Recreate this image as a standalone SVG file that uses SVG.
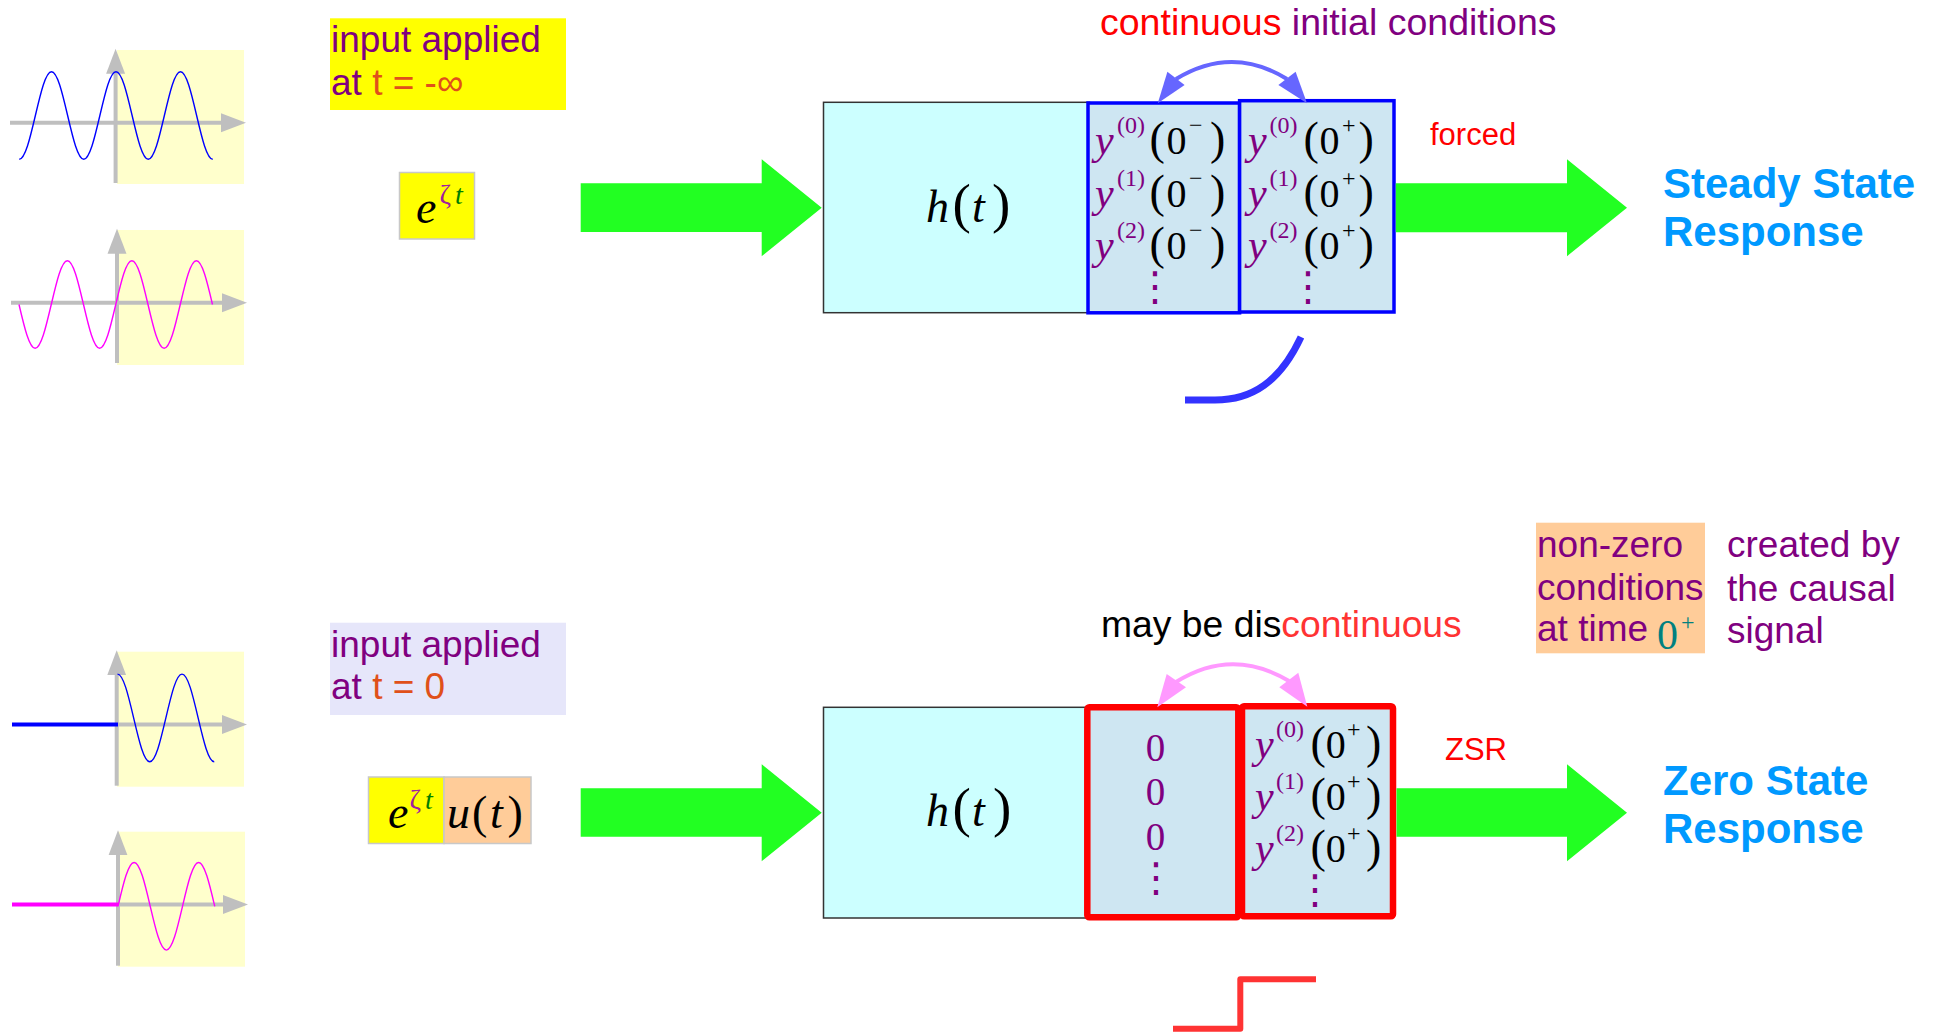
<svg xmlns="http://www.w3.org/2000/svg" width="1939" height="1032" viewBox="0 0 1939 1032">
<style>
.sans{font-family:"Liberation Sans",Arial,sans-serif}
.serif{font-family:"Liberation Serif","Times New Roman",serif}
.it{font-style:italic}
.pur{fill:#800080}
.org{fill:#e0501a}
.lbl{font-size:37px}
.panel{fill:#ffffcc}
.axis{stroke:#bfbfbf;stroke-width:4;fill:none;marker-end:url(#garr)}
.wave{fill:none;stroke-width:1.4}
.cyan{fill:#ccffff;stroke:#333;stroke-width:1.5}
.icb{fill:#cee6f2;stroke:#0000ff;stroke-width:3.5}
.icr{fill:#cee6f2;stroke:#ff0000;stroke-width:6.5;stroke-linejoin:round}
.green{fill:#22ff22}
.row{font-size:40px}
.sup{font-size:24px}
.par{font-size:46px}
.dots{font-family:"DejaVu Sans",sans-serif;font-size:40px;fill:#800080;text-anchor:middle}
.resp{font-family:"Liberation Sans",Arial,sans-serif;font-weight:bold;font-size:42px;fill:#0099ff}
.note{font-family:"Liberation Sans",Arial,sans-serif;font-size:31px;fill:#ff0000}
.arcb{fill:none;stroke:#6666ff;stroke-width:4}
.headb{fill:#6666ff}
.arcp{fill:none;stroke:#ff99ff;stroke-width:4}
.headp{fill:#ff99ff}
</style>
<defs>
<marker id="garr" viewBox="0 -10 26 20" refX="1" refY="0" markerWidth="26" markerHeight="20" markerUnits="userSpaceOnUse" orient="auto">
<path d="M0,-9.5 L25,0 L0,9.5 z" fill="#bfbfbf"/>
</marker>
</defs>
<rect width="1939" height="1032" fill="#ffffff"/>

<!-- left signal sketches -->
<g id="sketch-cos-full">
<rect class="panel" x="117" y="50" width="127" height="134"/>
<line class="axis" x1="10" y1="122.7" x2="222" y2="122.7"/>
<line class="axis" x1="115.6" y1="183" x2="115.6" y2="72.7"/>
<path class="wave" stroke="#0000ff" d="M19.25,159.3 c5.8,0 10.735,-20.8 16.125,-43.8 c5.39,-23 10.32,-43.8 16.125,-43.8 c5.8,0 10.735,20.8 16.125,43.8 c5.39,23 10.32,43.8 16.125,43.8 c5.8,0 10.735,-20.8 16.125,-43.8 c5.39,-23 10.32,-43.8 16.125,-43.8 c5.8,0 10.735,20.8 16.125,43.8 c5.39,23 10.32,43.8 16.125,43.8 c5.8,0 10.735,-20.8 16.125,-43.8 c5.39,-23 10.32,-43.8 16.125,-43.8 c5.8,0 10.735,20.8 16.125,43.8 c5.39,23 10.32,43.8 16.125,43.8"/>
</g>
<g id="sketch-sin-full">
<rect class="panel" x="117" y="230" width="127" height="135"/>
<line class="axis" x1="11" y1="302.7" x2="223" y2="302.7"/>
<line class="axis" x1="117" y1="363" x2="117" y2="252.7"/>
<path class="wave" stroke="#ff00ff" d="M19,304.5 c5.39,23 10.32,43.8 16.125,43.8 c5.8,0 10.735,-20.8 16.125,-43.8 c5.39,-23 10.32,-43.8 16.125,-43.8 c5.8,0 10.735,20.8 16.125,43.8 c5.39,23 10.32,43.8 16.125,43.8 c5.8,0 10.735,-20.8 16.125,-43.8 c5.39,-23 10.32,-43.8 16.125,-43.8 c5.8,0 10.735,20.8 16.125,43.8 c5.39,23 10.32,43.8 16.125,43.8 c5.8,0 10.735,-20.8 16.125,-43.8 c5.39,-23 10.32,-43.8 16.125,-43.8 c5.8,0 10.735,20.8 16.125,43.8"/>
</g>
<g id="sketch-cos-causal">
<rect class="panel" x="117" y="651.7" width="127" height="135"/>
<line class="axis" x1="118" y1="724.5" x2="223" y2="724.5"/>
<line class="axis" x1="116.7" y1="785.7" x2="116.7" y2="674.3"/>
<line x1="12" y1="724.5" x2="118" y2="724.5" stroke="#0000ff" stroke-width="4"/>
<path class="wave" stroke="#0000ff" d="M117.5,674.1 c5.8,0 10.735,20.8 16.125,43.8 c5.39,23 10.32,43.8 16.125,43.8 c5.8,0 10.735,-20.8 16.125,-43.8 c5.39,-23 10.32,-43.8 16.125,-43.8 c5.8,0 10.735,20.8 16.125,43.8 c5.39,23 10.32,43.8 16.125,43.8"/>
</g>
<g id="sketch-sin-causal">
<rect class="panel" x="118" y="831.7" width="127" height="135"/>
<line class="axis" x1="118" y1="904.5" x2="224" y2="904.5"/>
<line class="axis" x1="118" y1="965.7" x2="118" y2="854.3"/>
<line x1="12" y1="904.5" x2="118" y2="904.5" stroke="#ff00ff" stroke-width="4"/>
<path class="wave" stroke="#ff00ff" d="M118,906.3 c5.39,-23 10.32,-43.8 16.125,-43.8 c5.8,0 10.735,20.8 16.125,43.8 c5.39,23 10.32,43.8 16.125,43.8 c5.8,0 10.735,-20.8 16.125,-43.8 c5.39,-23 10.32,-43.8 16.125,-43.8 c5.8,0 10.735,20.8 16.125,43.8"/>
</g>

<!-- input descriptions -->
<g id="label-input-inf">
<rect x="330" y="18.3" width="236" height="91.7" fill="#ffff00"/>
<text class="sans lbl pur" x="331" y="51.7">input applied</text>
<text class="sans lbl pur" x="331" y="95">at <tspan class="org">t = -∞</tspan></text>
</g>
<g id="label-input-zero">
<rect x="330" y="622.7" width="236" height="92.3" fill="#e6e6fa"/>
<text class="sans lbl pur" x="331" y="656.7">input applied</text>
<text class="sans lbl pur" x="331" y="699.3">at <tspan class="org">t = 0</tspan></text>
</g>

<!-- input signals -->
<g id="input-exp">
<rect x="399.5" y="172.5" width="75" height="66.5" fill="#ffff00" stroke="#c8c8c8" stroke-width="1.5"/>
<text class="serif" y="222.7"><tspan class="it" x="416" font-size="46">e</tspan><tspan x="439.5" y="204" font-size="28" fill="#a0209f">ζ</tspan><tspan class="it" x="455" y="204" font-size="28" fill="#008000">t</tspan></text>
</g>
<g id="input-exp-step">
<rect x="368.5" y="777" width="75.5" height="66.5" fill="#ffff00" stroke="#c8c8c8" stroke-width="1.5"/>
<rect x="444" y="777" width="87" height="66.5" fill="#ffcc99" stroke="#c8c8c8" stroke-width="1.5"/>
<text class="serif" y="827.7"><tspan class="it" x="388" font-size="46">e</tspan><tspan x="409.5" y="809" font-size="28" fill="#a0209f">ζ</tspan><tspan class="it" x="425" y="809" font-size="28" fill="#008000">t</tspan></text>
<text class="serif" y="828" font-size="46"><tspan class="it" x="447">u</tspan><tspan x="472">(</tspan><tspan class="it" x="490">t</tspan><tspan x="507.5">)</tspan></text>
</g>

<!-- top system -->
<g id="system-top">
<rect class="cyan" x="823.5" y="102.3" width="266" height="210.4"/>
<text class="serif" y="221.7"><tspan class="it" x="926" font-size="46">h</tspan><tspan x="952.5" font-size="55">(</tspan><tspan class="it" x="972" font-size="46">t</tspan><tspan x="992" font-size="55">)</tspan></text>
</g>
<g id="ic-minus-top">
<rect class="icb" x="1088" y="103" width="151.6" height="209.8"/>
<text class="serif" y="154"><tspan class="it pur" x="1095" font-size="42">y</tspan><tspan class="pur sup" x="1117" dy="-21">(0)</tspan><tspan class="par" x="1149.5" dy="21">(</tspan><tspan class="row" x="1166.5">0</tspan><tspan class="sup" x="1189" dy="-21">−</tspan><tspan class="par" x="1210" dy="21">)</tspan></text>
<text class="serif" y="206.5"><tspan class="it pur" x="1095" font-size="42">y</tspan><tspan class="pur sup" x="1117" dy="-21">(1)</tspan><tspan class="par" x="1149.5" dy="21">(</tspan><tspan class="row" x="1166.5">0</tspan><tspan class="sup" x="1189" dy="-21">−</tspan><tspan class="par" x="1210" dy="21">)</tspan></text>
<text class="serif" y="259"><tspan class="it pur" x="1095" font-size="42">y</tspan><tspan class="pur sup" x="1117" dy="-21">(2)</tspan><tspan class="par" x="1149.5" dy="21">(</tspan><tspan class="row" x="1166.5">0</tspan><tspan class="sup" x="1189" dy="-21">−</tspan><tspan class="par" x="1210" dy="21">)</tspan></text>
<text class="dots" x="1155" y="300">⋮</text>
</g>
<g id="ic-plus-top">
<rect class="icb" x="1239.6" y="100.7" width="154.4" height="211.3"/>
<text class="serif" y="154"><tspan class="it pur" x="1248" font-size="42">y</tspan><tspan class="pur sup" x="1269.5" dy="-21">(0)</tspan><tspan class="par" x="1303.5" dy="21">(</tspan><tspan class="row" x="1319.5">0</tspan><tspan class="sup" x="1342" dy="-21">+</tspan><tspan class="par" x="1358.5" dy="21">)</tspan></text>
<text class="serif" y="206.5"><tspan class="it pur" x="1248" font-size="42">y</tspan><tspan class="pur sup" x="1269.5" dy="-21">(1)</tspan><tspan class="par" x="1303.5" dy="21">(</tspan><tspan class="row" x="1319.5">0</tspan><tspan class="sup" x="1342" dy="-21">+</tspan><tspan class="par" x="1358.5" dy="21">)</tspan></text>
<text class="serif" y="259"><tspan class="it pur" x="1248" font-size="42">y</tspan><tspan class="pur sup" x="1269.5" dy="-21">(2)</tspan><tspan class="par" x="1303.5" dy="21">(</tspan><tspan class="row" x="1319.5">0</tspan><tspan class="sup" x="1342" dy="-21">+</tspan><tspan class="par" x="1358.5" dy="21">)</tspan></text>
<text class="dots" x="1308" y="300">⋮</text>
</g>
<g id="title-continuous">
<text class="sans" font-size="37.5" x="1100" y="35"><tspan fill="#ff0000">continuous</tspan><tspan class="pur"> initial conditions</tspan></text>
</g>
<g id="label-forced"><text class="note" x="1430" y="145">forced</text></g>
<g id="output-steady">
<text class="resp" x="1663" y="198.3">Steady State</text>
<text class="resp" x="1663" y="245.7">Response</text>
</g>
<g id="curve-continuous">
<path d="M1185,400 L1215,400 C1252,400 1280,382 1301,337" fill="none" stroke="#3333ff" stroke-width="7"/>
</g>

<!-- bottom system -->
<g id="system-bottom">
<rect class="cyan" x="823.5" y="707.3" width="266" height="210.7"/>
<text class="serif" y="826"><tspan class="it" x="926" font-size="46">h</tspan><tspan x="952.5" font-size="55">(</tspan><tspan class="it" x="972" font-size="46">t</tspan><tspan x="993" font-size="55">)</tspan></text>
</g>
<g id="ic-minus-bottom">
<rect class="icr" x="1087.3" y="707.3" width="151" height="210" rx="2"/>
<text class="serif pur" font-size="39" text-anchor="middle"><tspan x="1155.5" y="760.7">0</tspan><tspan x="1155.5" y="805">0</tspan><tspan x="1155.5" y="850">0</tspan></text>
<text class="dots" x="1156" y="891">⋮</text>
</g>
<g id="ic-plus-bottom">
<rect class="icr" x="1242" y="706.3" width="151" height="210" rx="2"/>
<text class="serif" y="758.3"><tspan class="it pur" x="1255" font-size="42">y</tspan><tspan class="pur sup" x="1276" dy="-21">(0)</tspan><tspan class="par" x="1310.5" dy="21">(</tspan><tspan class="row" x="1325.7">0</tspan><tspan class="sup" x="1347" dy="-21">+</tspan><tspan class="par" x="1366" dy="21">)</tspan></text>
<text class="serif" y="810"><tspan class="it pur" x="1255" font-size="42">y</tspan><tspan class="pur sup" x="1276" dy="-21">(1)</tspan><tspan class="par" x="1310.5" dy="21">(</tspan><tspan class="row" x="1325.7">0</tspan><tspan class="sup" x="1347" dy="-21">+</tspan><tspan class="par" x="1366" dy="21">)</tspan></text>
<text class="serif" y="861.7"><tspan class="it pur" x="1255" font-size="42">y</tspan><tspan class="pur sup" x="1276" dy="-21">(2)</tspan><tspan class="par" x="1310.5" dy="21">(</tspan><tspan class="row" x="1325.7">0</tspan><tspan class="sup" x="1347" dy="-21">+</tspan><tspan class="par" x="1366" dy="21">)</tspan></text>
<text class="dots" x="1315" y="903">⋮</text>
</g>
<g id="title-discontinuous">
<text class="sans" font-size="37.3" x="1101" y="636.7"><tspan fill="#000000">may be dis</tspan><tspan fill="#ff3333">continuous</tspan></text>
</g>
<g id="label-zsr"><text class="note" x="1445" y="760">ZSR</text></g>
<g id="output-zero-state">
<text class="resp" x="1663" y="795">Zero State</text>
<text class="resp" x="1663" y="843">Response</text>
</g>
<g id="note-nonzero">
<rect x="1536" y="522.7" width="169" height="130.6" fill="#ffcc99"/>
<text class="sans lbl pur" x="1537" y="556.7">non-zero</text>
<text class="sans lbl pur" x="1537" y="600">conditions</text>
<text class="sans lbl pur" x="1537" y="640.7">at time</text>
<text class="serif" fill="#008080"><tspan x="1657" y="649" font-size="42">0</tspan><tspan x="1681" y="630" font-size="24">+</tspan></text>
</g>
<g id="note-causal">
<text class="sans lbl pur" x="1727" y="557">created by</text>
<text class="sans lbl pur" x="1727" y="601">the causal</text>
<text class="sans lbl pur" x="1727" y="643">signal</text>
</g>
<g id="curve-step">
<path d="M1173,1028.7 L1240.3,1028.7 L1240.3,979.3 L1316,979.3" fill="none" stroke="#ff3333" stroke-width="6" stroke-linejoin="round"/>
</g>

<!-- connectors -->
<g id="connectors">
<polygon class="green" points="580.7,183.3 761.7,183.3 761.7,159.2 821.7,207.7 761.7,256.2 761.7,232 580.7,232"/>
<polygon class="green" points="1395.8,183.3 1567,183.3 1567,159.2 1627,207.7 1567,256.2 1567,232.3 1395.8,232.3"/>
<polygon class="green" points="580.7,788.3 761.7,788.3 761.7,764.2 821.7,812.7 761.7,861.2 761.7,836.7 580.7,836.7"/>
<polygon class="green" points="1396.5,788.3 1567,788.3 1567,764.2 1627,812.7 1567,861.2 1567,836.7 1396.5,836.7"/>
<path class="arcb" d="M1176,79 Q1232,45 1287,79"/>
<polygon class="headb" points="1157.8,103.3 1167.4,71.7 1184.6,85"/>
<polygon class="headb" points="1307,103.3 1295.6,71.7 1278.4,85"/>
<path class="arcp" d="M1176,682 Q1232,647 1289,681"/>
<polygon class="headp" points="1157.3,707.3 1166.7,674 1186,687.3"/>
<polygon class="headp" points="1307.3,706.7 1298.3,672.7 1279.3,687.3"/>
</g>
</svg>
